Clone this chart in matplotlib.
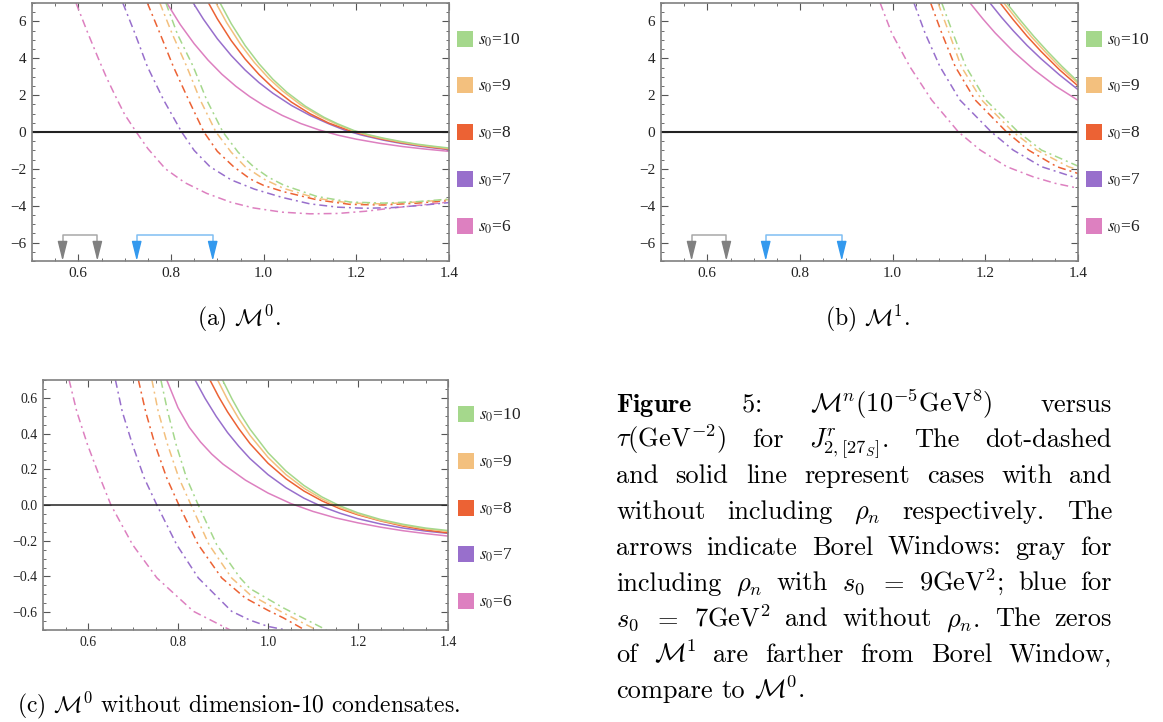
import numpy as np
import matplotlib
matplotlib.use("Agg")
import matplotlib.pyplot as plt
from matplotlib.patches import Rectangle
from matplotlib.ticker import MultipleLocator

plt.rcParams['font.family'] = ['Liberation Serif', 'DejaVu Serif']

W, H = 1163, 722
s0_vals = [6, 7, 8, 9, 10]
colors = ['#dd80c0', '#986fcc', '#ec6234', '#f3c07e', '#a5d88c']

# ---- (a) M^0, dot-dashed = with rho_n, solid = without (s0 = 6..10)
a_dash_tau = [
    [0.595, 0.62, 0.643, 0.66, 0.679, 0.70, 0.725, 0.75, 0.788, 0.83, 0.877, 0.93, 0.978, 1.04, 1.10, 1.16, 1.22, 1.28, 1.34, 1.40],
    [0.696, 0.722, 0.749, 0.784, 0.823, 0.85, 0.884, 0.93, 0.98, 1.04, 1.10, 1.16, 1.22, 1.28, 1.34, 1.40],
    [0.749, 0.776, 0.805, 0.838, 0.871, 0.90, 0.935, 0.971, 1.0, 1.043, 1.115, 1.187, 1.258, 1.331, 1.40],
    [0.776, 0.802, 0.834, 0.863, 0.897, 0.93, 0.96, 1.0, 1.043, 1.115, 1.187, 1.258, 1.331, 1.40],
    [0.789, 0.814, 0.848, 0.877, 0.912, 0.945, 0.978, 1.01, 1.043, 1.115, 1.187, 1.258, 1.331, 1.40],
]
a_dash_M = [
    [7.0, 5.4, 4.0, 3.0, 2.0, 0.95, 0.0, -0.9, -2.0, -2.75, -3.33, -3.82, -4.12, -4.35, -4.44, -4.42, -4.3, -4.12, -3.96, -3.8],
    [7.0, 5.36, 3.55, 1.74, 0.0, -1.0, -1.88, -2.6, -3.1, -3.55, -3.9, -4.08, -4.14, -4.1, -3.98, -3.83],
    [7.0, 5.36, 3.55, 1.74, 0.0, -1.05, -1.88, -2.55, -2.9, -3.24, -3.68, -3.93, -3.96, -3.86, -3.72],
    [7.0, 5.36, 3.55, 1.74, 0.0, -1.1, -1.88, -2.55, -3.06, -3.6, -3.86, -3.9, -3.8, -3.67],
    [7.0, 5.3, 3.55, 1.74, 0.0, -1.1, -1.88, -2.45, -2.88, -3.5, -3.8, -3.86, -3.78, -3.64],
]
a_sol_tau = [
    [0.791, 0.82, 0.85, 0.88, 0.91, 0.94, 0.97, 1.00, 1.04, 1.08, 1.12, 1.16, 1.20, 1.25, 1.30, 1.35, 1.40],
    [0.848, 0.87, 0.90, 0.93, 0.96, 0.99, 1.02, 1.06, 1.10, 1.14, 1.175, 1.21, 1.258, 1.295, 1.331, 1.3655, 1.40],
    [0.881, 0.90, 0.93, 0.96, 0.99, 1.02, 1.06, 1.10, 1.14, 1.187, 1.2225, 1.258, 1.295, 1.331, 1.3655, 1.40],
    [0.897, 0.92, 0.95, 0.98, 1.01, 1.04, 1.08, 1.12, 1.16, 1.195, 1.225, 1.258, 1.295, 1.331, 1.3655, 1.40],
    [0.906, 0.93, 0.96, 0.99, 1.02, 1.05, 1.09, 1.13, 1.16, 1.195, 1.225, 1.258, 1.295, 1.331, 1.3655, 1.40],
]
a_sol_M = [
    [7.0, 5.83, 4.79, 3.90, 3.13, 2.48, 1.92, 1.44, 0.90, 0.46, 0.11, -0.17, -0.39, -0.61, -0.79, -0.93, -1.05],
    [7.0, 6.12, 5.06, 4.15, 3.36, 2.68, 2.10, 1.44, 0.90, 0.45, 0.10, -0.16, -0.44, -0.61, -0.75, -0.86, -0.96],
    [7.0, 6.14, 4.96, 3.96, 3.12, 2.40, 1.62, 0.99, 0.49, 0.06, -0.18, -0.40, -0.57, -0.71, -0.83, -0.93],
    [7.0, 5.94, 4.76, 3.77, 2.94, 2.24, 1.47, 0.87, 0.39, 0.05, -0.17, -0.36, -0.54, -0.69, -0.80, -0.90],
    [7.0, 5.88, 4.69, 3.70, 2.86, 2.16, 1.40, 0.80, 0.44, 0.08, -0.14, -0.33, -0.51, -0.66, -0.77, -0.87],
]

# ---- (b) M^1
b_dash_tau = [
    [0.973, 0.998, 1.037, 1.084, 1.142, 1.189, 1.246, 1.303, 1.35, 1.40],
    [1.046, 1.07, 1.102, 1.145, 1.213, 1.26, 1.321, 1.40],
    [1.082, 1.106, 1.135, 1.178, 1.246, 1.293, 1.354, 1.40],
    [1.098, 1.122, 1.148, 1.192, 1.26, 1.311, 1.379, 1.40],
    [1.106, 1.13, 1.158, 1.201, 1.271, 1.321, 1.40],
]
b_dash_M = [
    [7.0, 5.36, 3.55, 1.74, 0.0, -0.98, -1.88, -2.43, -2.78, -3.05],
    [7.0, 5.36, 3.55, 1.74, 0.0, -0.98, -1.88, -2.52],
    [7.0, 5.36, 3.55, 1.74, 0.0, -0.98, -1.88, -2.25],
    [7.0, 5.36, 3.55, 1.74, 0.0, -0.98, -1.88, -2.05],
    [7.0, 5.36, 3.55, 1.74, 0.0, -0.98, -1.85],
]
b_sol_tau = [
    [1.167, 1.195, 1.221, 1.26, 1.304, 1.351, 1.40],
    [1.21, 1.235, 1.26, 1.29, 1.32, 1.36, 1.40],
    [1.232, 1.26, 1.29, 1.32, 1.36, 1.40],
    [1.24, 1.27, 1.30, 1.33, 1.36, 1.40],
    [1.246, 1.275, 1.305, 1.335, 1.365, 1.40],
]
b_sol_M = [
    [7.0, 6.13, 5.38, 4.38, 3.40, 2.50, 1.72],
    [7.0, 6.22, 5.50, 4.70, 3.98, 3.10, 2.30],
    [7.0, 6.10, 5.20, 4.38, 3.38, 2.50],
    [7.0, 6.05, 5.15, 4.33, 3.55, 2.65],
    [7.0, 6.08, 5.18, 4.35, 3.57, 2.73],
]

# ---- (c) M^0 without dimension-10 condensates
c_dash_tau = [
    [0.558, 0.575, 0.599, 0.627, 0.651, 0.699, 0.753, 0.834, 0.916],
    [0.661, 0.676, 0.699, 0.725, 0.753, 0.797, 0.845, 0.919, 0.96, 1.0, 1.04],
    [0.712, 0.728, 0.749, 0.775, 0.802, 0.845, 0.897, 0.949, 1.0, 1.034, 1.082],
    [0.742, 0.756, 0.777, 0.802, 0.829, 0.869, 0.919, 0.96, 1.034, 1.108],
    [0.762, 0.777, 0.796, 0.819, 0.845, 0.886, 0.938, 0.96, 1.034, 1.13],
]
c_dash_M = [
    [0.7, 0.524, 0.337, 0.151, 0.0, -0.222, -0.408, -0.595, -0.70],
    [0.7, 0.524, 0.337, 0.151, 0.0, -0.222, -0.408, -0.595, -0.645, -0.68, -0.70],
    [0.7, 0.524, 0.337, 0.151, 0.0, -0.222, -0.408, -0.52, -0.59, -0.632, -0.70],
    [0.7, 0.524, 0.337, 0.151, 0.0, -0.222, -0.408, -0.502, -0.604, -0.70],
    [0.7, 0.524, 0.337, 0.151, 0.0, -0.222, -0.408, -0.468, -0.576, -0.70],
]
c_sol_tau = [
    [0.775, 0.80, 0.825, 0.85, 0.875, 0.90, 0.95, 1.00, 1.05, 1.10, 1.15, 1.20, 1.25, 1.30, 1.35, 1.40],
    [0.838, 0.86, 0.885, 0.91, 0.935, 0.96, 1.00, 1.04, 1.08, 1.12, 1.16, 1.20, 1.25, 1.30, 1.35, 1.40],
    [0.871, 0.89, 0.91, 0.935, 0.96, 1.00, 1.04, 1.08, 1.12, 1.16, 1.20, 1.25, 1.30, 1.35, 1.40],
    [0.888, 0.91, 0.935, 0.96, 1.00, 1.04, 1.08, 1.12, 1.16, 1.20, 1.25, 1.30, 1.35, 1.40],
    [0.899, 0.92, 0.94, 0.96, 1.00, 1.04, 1.08, 1.12, 1.16, 1.20, 1.25, 1.30, 1.35, 1.40],
]
c_sol_M = [
    [0.70, 0.545, 0.435, 0.353, 0.285, 0.229, 0.139, 0.067, 0.009, -0.036, -0.072, -0.10, -0.124, -0.144, -0.16, -0.174],
    [0.70, 0.598, 0.496, 0.406, 0.329, 0.26, 0.17, 0.097, 0.038, -0.009, -0.046, -0.077, -0.106, -0.129, -0.146, -0.159],
    [0.70, 0.608, 0.522, 0.428, 0.344, 0.234, 0.147, 0.078, 0.023, -0.021, -0.055, -0.089, -0.118, -0.14, -0.156],
    [0.70, 0.591, 0.483, 0.39, 0.267, 0.17, 0.094, 0.034, -0.014, -0.051, -0.087, -0.113, -0.133, -0.148],
    [0.70, 0.594, 0.504, 0.425, 0.293, 0.19, 0.109, 0.045, -0.005, -0.044, -0.081, -0.108, -0.129, -0.143],
]

# Borel windows (tau)
gray_win = [0.566, 0.641]
blue_win = [0.726, 0.890]

fig = plt.figure(figsize=(W / 100, H / 100), dpi=100)


def fx(px):
    return px / W


def fy(py):
    return 1 - py / H


dotdash = (0, (5.2, 2.6, 1.3, 2.6))


def panel(left, top, right, bottom, dt, dm, st, sm, ylim, ymaj, ymin, fs, zlw):
    ax = fig.add_axes([fx(left), fy(bottom), fx(right - left), (bottom - top) / H])
    for i in range(5):
        ax.plot(st[i], sm[i], color=colors[i], lw=1.1)
        ax.plot(dt[i], dm[i], color=colors[i], lw=1.1, ls=dotdash)
    ax.axhline(0, color='#222222', lw=zlw)
    ax.set_xlim(0.5, 1.4)
    ax.set_ylim(*ylim)
    ax.xaxis.set_major_locator(MultipleLocator(0.2))
    ax.xaxis.set_minor_locator(MultipleLocator(0.05))
    ax.yaxis.set_major_locator(MultipleLocator(ymaj))
    ax.yaxis.set_minor_locator(MultipleLocator(ymin))
    ax.tick_params(which='both', direction='in', top=True, right=True,
                   color='#555555', labelsize=fs, labelcolor='#222222', pad=4)
    ax.tick_params(which='major', length=5, width=0.8)
    ax.tick_params(which='minor', length=2.5, width=0.6)
    for sp in ax.spines.values():
        sp.set_color('#808080')
        sp.set_linewidth(1.2)
    return ax


def windows(ax):
    for win, lc, hc in [(gray_win, '#a8a8a8', '#808080'), (blue_win, '#80bff2', '#3399ee')]:
        ax.plot([win[0], win[0], win[1], win[1]], [-5.95, -5.6, -5.6, -5.95], color=lc, lw=1.1)
        for xw in win:
            ax.annotate('', xy=(xw, -7), xytext=(xw, -5.95),
                        arrowprops=dict(arrowstyle='-|>,head_length=1.2,head_width=0.3',
                                        color=hc, lw=1.0, shrinkA=0, shrinkB=0,
                                        mutation_scale=10))


def legend(x_sw, rows):
    for i, yc in zip(range(4, -1, -1), rows):
        fig.add_artist(Rectangle((fx(x_sw), fy(yc + 8)), 16 / W, 16 / H,
                                 transform=fig.transFigure, color=colors[i], lw=0))
        fig.text(fx(x_sw + 21), fy(yc + 5.5), r'$s_0$=%d' % s0_vals[i], size=12.5,
                 va='baseline', ha='left', math_fontfamily='stix', color='#222222')


ax_a = panel(32, 3, 449, 261, a_dash_tau, a_dash_M, a_sol_tau, a_sol_M, (-7, 7), 2, 0.5, 11, 1.5)
windows(ax_a)
legend(457, [39, 85, 132, 179, 226])

ax_b = panel(661, 3, 1078, 261, b_dash_tau, b_dash_M, b_sol_tau, b_sol_M, (-7, 7), 2, 0.5, 11, 1.5)
windows(ax_b)
legend(1086, [39, 85, 132, 179, 226])

ax_c = panel(43, 380, 448, 630, c_dash_tau, c_dash_M, c_sol_tau, c_sol_M, (-0.7, 0.7), 0.2, 0.05, 10, 1.1)
legend(458, [414, 461, 508, 554, 601])

cap = dict(family='cmr10', math_fontfamily='cm', size=19, va='baseline', color='black')
sub = dict(cap, size=17)
fig.text(fx(239), fy(325), r'(a) $\mathcal{M}^0$.', ha='center', **sub)
fig.text(fx(868), fy(325), r'(b) $\mathcal{M}^1$.', ha='center', **sub)
fig.text(fx(17), fy(712), r'(c) $\mathcal{M}^0$ without dimension-10 condensates.', ha='left', **sub)

# justified figure caption
lines = [
    [r'$\mathbf{Figure}$', r'$\mathbf{5}$:', r'$\mathcal{M}^n(10^{-5}\mathrm{GeV}^8)$', 'versus'],
    [r'$\tau(\mathrm{GeV}^{-2})$', 'for', r'$J^r_{2,[27_S]}$.', 'The', 'dot-dashed'],
    ['and', 'solid', 'line', 'represent', 'cases', 'with', 'and'],
    ['without', 'including', r'$\rho_n$', 'respectively.', 'The'],
    ['arrows', 'indicate', 'Borel', 'Windows:', 'gray', 'for'],
    ['including', r'$\rho_n$', 'with', r'$s_0$', r'$=$', r'9GeV$^2$;', 'blue', 'for'],
    [r'$s_0$', r'$=$', r'7GeV$^2$', 'and', 'without', r'$\rho_n$.', 'The', 'zeros'],
    ['of', r'$\mathcal{M}^1$', 'are', 'farther', 'from', 'Borel', 'Window,'],
    ['compare', 'to', r'$\mathcal{M}^0$.'],
]
x0, x1 = 616, 1112
renderer = fig.canvas.get_renderer()
for k, words in enumerate(lines):
    yb = 411.5 + k * 35.8
    ts = [fig.text(0, fy(yb), w, ha='left', **cap) for w in words]
    ws = [t.get_window_extent(renderer).width for t in ts]
    if k == len(lines) - 1:
        gap = 0.333 * 19 * 100 / 72
    else:
        gap = (x1 - x0 - sum(ws)) / (len(ws) - 1)
    xp = x0
    for t, w in zip(ts, ws):
        t.set_x(fx(xp))
        xp += w + gap

fig.savefig('out.png', dpi=100)
